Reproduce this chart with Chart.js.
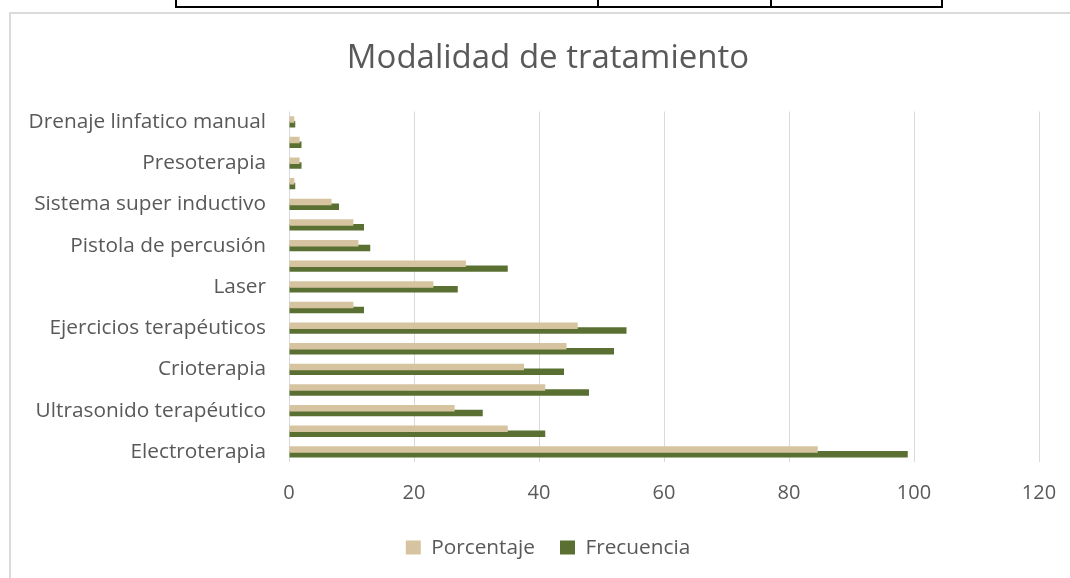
<!DOCTYPE html>
<html>
<head>
<meta charset="utf-8">
<script src="https://cdn.jsdelivr.net/npm/chart.js@4"></script>
<style>
  html, body { margin: 0; padding: 0; background: #fff; overflow: hidden; width: 1070px; height: 578px; }
  #tbl { position: absolute; left: 175px; top: -10px; width: 764px; height: 14px; border: 2px solid #000; }
  .vd { position: absolute; top: 0; width: 2px; height: 14px; background: #000; }
  #frame { position: absolute; left: 9px; top: 12px; width: 1100px; height: 600px; border-left: 2px solid #DADADA; border-top: 2px solid #DADADA; }
  #wrap { position: absolute; left: 10px; top: 14px; width: 1076px; height: 570px; }
</style>
</head>
<body>
<div id="tbl"><div class="vd" style="left:420px"></div><div class="vd" style="left:593px"></div></div>
<div id="frame"></div>
<div id="wrap"><canvas id="c"></canvas></div>
<script>
// Categories listed from top to bottom (unlabelled categories in the picture are left blank)
const categories = [
  'Drenaje linfatico manual', '', 'Presoterapia', '', 'Sistema super inductivo', '',
  'Pistola de percusión', '', 'Laser', '', 'Ejercicios terapéuticos', '',
  'Crioterapia', '', 'Ultrasonido terapéutico', '', 'Electroterapia'
];
const porcentaje = [0.85, 1.7, 1.7, 0.85, 6.8, 10.3, 11.1, 28.3, 23.1, 10.3, 46.2, 44.4, 37.6, 41, 26.5, 35, 84.6];
const frecuencia = [1, 2, 2, 1, 8, 12, 13, 35, 27, 12, 54, 52, 44, 48, 31, 41, 99];
const xTicks = [0, 20, 40, 60, 80, 100, 120];

const FONT = '"Open Sans"';
const TXT = '#595959';

new Chart(document.getElementById('c'), {
  type: 'bar',
  data: {
    labels: categories,
    datasets: [
      { label: 'Porcentaje', data: porcentaje, backgroundColor: '#D6C4A0', borderWidth: 0 },
      { label: 'Frecuencia', data: frecuencia, backgroundColor: '#5A7032', borderWidth: 0 }
    ]
  },
  options: {
    indexAxis: 'y',
    responsive: true,
    maintainAspectRatio: false,
    animation: false,
    categoryPercentage: 0.466,
    barPercentage: 1.35,
    layout: { padding: { left: 0, right: 0, top: 0, bottom: 16 } },
    plugins: {
      title: {
        display: true,
        text: 'Modalidad de tratamiento',
        color: TXT,
        font: { family: FONT, size: 33, weight: 'normal' },
        padding: { top: 25, bottom: 32.9 }
      },
      legend: {
        position: 'bottom',
        labels: {
          color: TXT,
          font: { family: FONT, size: 20.8 },
          boxWidth: 15,
          boxHeight: 14,
          padding: 25
        }
      },
      tooltip: { enabled: false }
    },
    scales: {
      x: {
        min: 0, max: 120,
        afterBuildTicks: (s) => { s.ticks = xTicks.map(v => ({ value: v })); },
        afterFit: (s) => { s.height = 50; },
        grid: { color: '#D9D9D9', lineWidth: 1, drawTicks: false },
        border: { display: false },
        ticks: { color: TXT, font: { family: FONT, size: 20 }, padding: 19 }
      },
      y: {
        afterFit: (s) => { s.width = 279; },
        grid: { display: false, drawTicks: false },
        border: { display: false },
        ticks: { color: TXT, font: { family: FONT, size: 20.8 }, padding: 23, autoSkip: false }
      },
      yRightSpace: {
        type: 'category',
        position: 'right',
        afterFit: (s) => { s.width = 47; },
        grid: { display: false, drawTicks: false },
        border: { display: false },
        ticks: { display: false }
      }
    }
  }
});
</script>
</body>
</html>
